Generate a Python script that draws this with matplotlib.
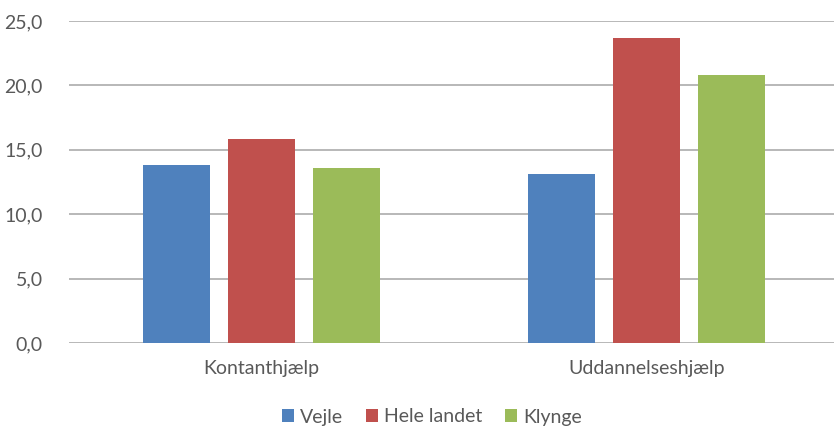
import matplotlib
matplotlib.use("Agg")
import matplotlib.pyplot as plt
import numpy as np

# Data
categories = ["Kontanthjælp", "Uddannelseshjælp"]
series_names = ["Vejle", "Hele landet", "Klynge"]
vejle = [13.8, 13.1]
hele_landet = [15.8, 23.7]
klynge = [13.6, 20.8]
yticks = [0, 5, 10, 15, 20, 25]

COLOURS = ["#4f81bd", "#c0504d", "#9bbb59"]
TEXT = "#595959"

plt.rcParams["font.family"] = ["Lato", "DejaVu Sans"]

fig = plt.figure(figsize=(8.34, 4.28), dpi=100)
ax = fig.add_axes([69 / 834, 1 - 343 / 428, 1 - 69 / 834, (343 - 21) / 428])

x = np.arange(len(categories))
width = 0.174
step = 0.22
for i, (vals, name) in enumerate(zip([vejle, hele_landet, klynge], series_names)):
    ax.bar(x + (i - 1) * step, vals, width, color=COLOURS[i], label=name, zorder=3)

ax.set_ylim(0, 25)
ax.set_xlim(-0.5, 1.5 - 5 / 385)
ax.set_yticks(yticks)
ax.set_yticklabels([f"{v:.1f}".replace(".", ",") for v in yticks])
ax.set_xticks(x)
ax.set_xticklabels(categories)
ax.yaxis.grid(True, color="#ababab", linewidth=1.2, zorder=0)
for s in ax.spines.values():
    s.set_visible(False)
ax.tick_params(axis="both", length=0, colors=TEXT, labelsize=14)
ax.tick_params(axis="y", pad=19)
ax.tick_params(axis="x", pad=12)

leg = fig.legend(loc="center", bbox_to_anchor=(432 / 834, 1 - 417 / 428), ncol=3,
                 frameon=False, fontsize=14, handlelength=0.6, handleheight=0.6,
                 handletextpad=0.3, columnspacing=1.2)
for t in leg.get_texts():
    t.set_color(TEXT)

fig.savefig("out.png", dpi=100)
